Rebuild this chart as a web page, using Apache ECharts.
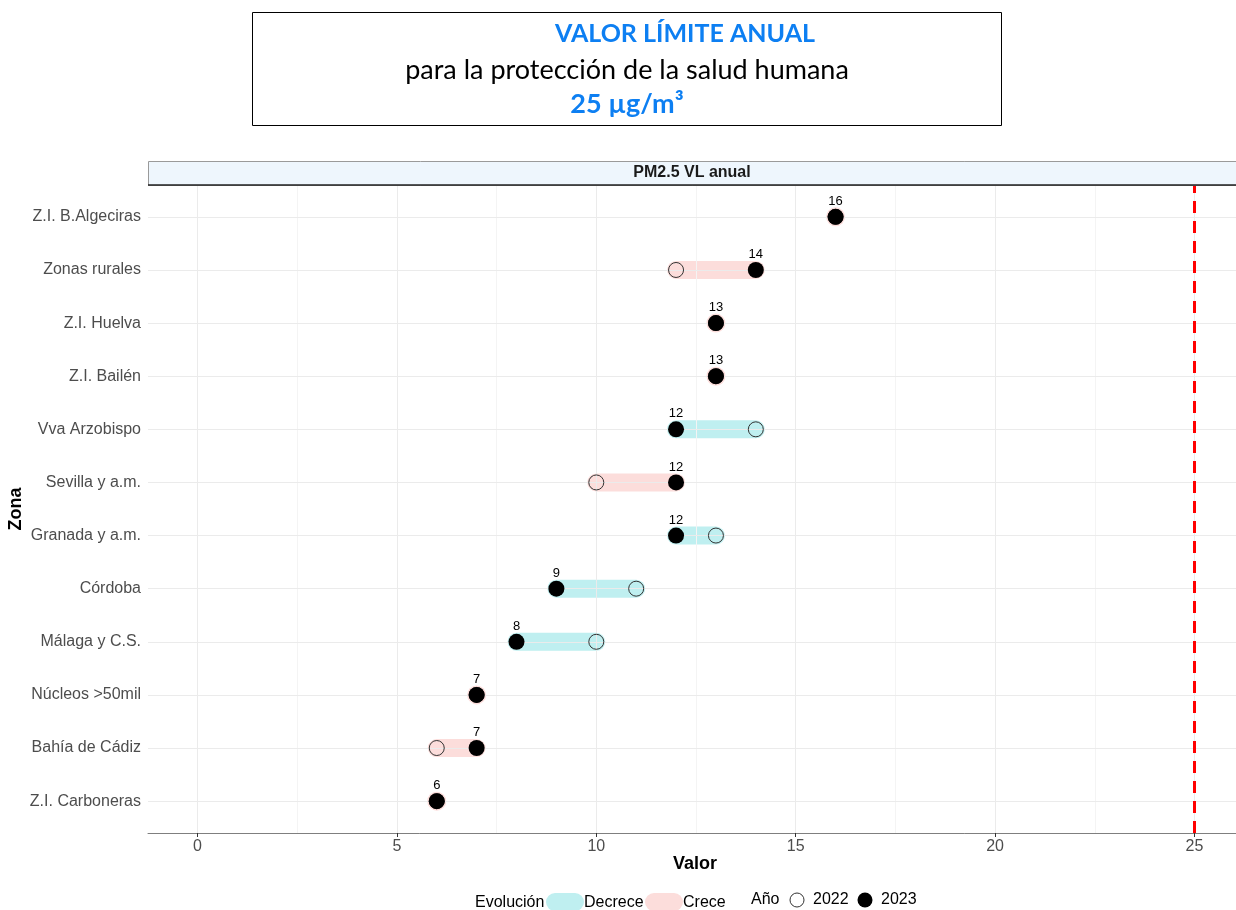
<!DOCTYPE html>
<html>
<head>
<meta charset="utf-8">
<script src="https://cdn.jsdelivr.net/npm/echarts@6/dist/echarts.min.js"></script>
<style>
html,body{margin:0;padding:0;background:#fff;}
#chart{width:1236px;height:910px;}
</style>
</head>
<body>
<div id="chart"></div>
<script>
// ---- Data ----
const zones = ['Z.I. B.Algeciras','Zonas rurales','Z.I. Huelva','Z.I. Bailén','Vva Arzobispo','Sevilla y a.m.','Granada y a.m.','Córdoba','Málaga y C.S.','Núcleos >50mil','Bahía de Cádiz','Z.I. Carboneras'];
const v2022 = [16,12,13,13,14,10,13,11,10,7,6,6];
const v2023 = [16,14,13,13,12,12,12,9,8,7,7,6];
const xTicks = [0,5,10,15,20,25];
const xMinor = [2.5,7.5,12.5,17.5,22.5];
const limitValue = 25;

const n = zones.length;
const yPos = zones.map((z,i)=> n - i);
const yTicks = yPos.slice();
const nameAt = {}; zones.forEach((z,i)=>{ nameAt[n-i]=z; });

const CYAN = '#bfeff0', PINK = '#fcdddb';
const FONT = '"Liberation Sans", Arial, sans-serif';

const segData = zones.map((z,i)=>[v2022[i], v2023[i], yPos[i]]);
const p22 = zones.map((z,i)=>[v2022[i], yPos[i]]);
const p23 = zones.map((z,i)=>[v2023[i], yPos[i]]);

const chart = echarts.init(document.getElementById('chart'), null, {renderer:'canvas'});

const gridLines = [];
xTicks.forEach(v=>gridLines.push({xAxis:v, lineStyle:{color:'#ebebeb', width:1, type:'solid'}}));
xMinor.forEach(v=>gridLines.push({xAxis:v, lineStyle:{color:'#f4f4f4', width:1, type:'solid'}}));
yTicks.forEach(v=>gridLines.push({yAxis:v, lineStyle:{color:'#ebebeb', width:1, type:'solid'}}));

const option = {
  backgroundColor:'#fff',
  animation:false,
  grid:{left:148, right:0, top:185, bottom:77, containLabel:false, outerBoundsMode:'none'},
  xAxis:{
    type:'value', min:-1.24, max:26.04,
    axisLine:{show:true, lineStyle:{color:'#7f7f7f', width:1}},
    axisTick:{show:true, length:4, lineStyle:{color:'#333'}, customValues:xTicks},
    axisLabel:{fontFamily:FONT, fontSize:16, color:'#4d4d4d', margin:6, customValues:xTicks},
    splitLine:{show:false}
  },
  yAxis:{
    type:'value', min:0.4, max:n+0.6,
    axisLine:{show:true, lineStyle:{color:'#7f7f7f', width:1}},
    axisTick:{show:true, length:4, lineStyle:{color:'#333'}, customValues:yTicks},
    axisLabel:{fontFamily:FONT, fontSize:16, color:'#4d4d4d', margin:7, customValues:yTicks,
      formatter:(v)=> nameAt[Math.round(v)] || ''},
    splitLine:{show:false}
  },
  series:[
    {
      type:'line', data:[], silent:true,
      markLine:{silent:true, symbol:['none','none'], label:{show:false}, data:gridLines, animation:false}
    },
    {
      type:'custom', z:3, clip:false,
      data:segData,
      encode:{x:[0,1], y:2},
      renderItem:(params, api)=>{
        const a = api.coord([api.value(0), api.value(2)]);
        const b = api.coord([api.value(1), api.value(2)]);
        const col = api.value(1) < api.value(0) ? CYAN : PINK;
        if (api.value(1) === api.value(0)) {
          return {type:'circle', shape:{cx:b[0], cy:b[1], r:9.5}, style:{fill:col}};
        }
        return {type:'line', shape:{x1:a[0], y1:a[1], x2:b[0], y2:b[1]},
          style:{stroke:col, lineWidth:18, lineCap:'round'}};
      }
    },
    {
      type:'line', data:[], silent:true, z:4,
      markLine:{silent:true, symbol:['none','none'], label:{show:false},
        data:[{xAxis:limitValue, lineStyle:{color:'#ff0000', width:3, type:[12,8]}}]}
    },
    {
      name:'2022', type:'scatter', z:5, data:p22, symbol:'circle', symbolSize:15,
      itemStyle:{color:'rgba(0,0,0,0)', borderColor:'#333', borderWidth:1, opacity:1}
    },
    {
      name:'2023', type:'scatter', z:6, data:p23, symbol:'circle', symbolSize:16,
      itemStyle:{color:'#000', opacity:1},
      label:{show:true, position:'top', distance:1, fontFamily:FONT, fontSize:13, color:'#000',
        formatter:(p)=> String(p.value[0])}
    }
  ],
  graphic:[
    // title box
    {type:'rect', left:252, top:12, shape:{width:749, height:113}, style:{fill:'#fff', stroke:'#000', lineWidth:1}, z:10},
    {type:'text', x:685, y:34, style:{text:'VALOR LÍMITE ANUAL', font:'bold 25px Lato, sans-serif', fill:'#0d7ff2', align:'center', verticalAlign:'middle'}, z:11},
    {type:'text', x:627, y:70, style:{text:'para la protección de la salud humana', font:'27px Lato, sans-serif', fill:'#000', align:'center', verticalAlign:'middle'}, z:11},
    {type:'text', x:627, y:104, style:{text:'25 µg/m³', font:'bold 27px Lato, sans-serif', fill:'#0d7ff2', align:'center', verticalAlign:'middle'}, z:11},
    // strip
    {type:'rect', left:148, top:161, shape:{width:1090, height:24}, style:{fill:'#eef6fd', stroke:'#9a9a9a', lineWidth:1}, z:10},
    {type:'line', shape:{x1:148, y1:185, x2:1236, y2:185}, style:{stroke:'#222', lineWidth:1.5}, z:11},
    {type:'text', x:692, y:173, style:{text:'PM2.5 VL anual', font:'bold 16px "Liberation Sans", Arial, sans-serif', fill:'#1a1a1a', align:'center', verticalAlign:'middle'}, z:11},
    // axis titles
    {type:'text', x:695, y:864, style:{text:'Valor', font:'bold 18px "Liberation Sans", Arial, sans-serif', fill:'#000', align:'center', verticalAlign:'middle'}, z:11},
    {type:'text', x:16, y:509, rotation:Math.PI/2, style:{text:'Zona', font:'bold 18px "Liberation Sans", Arial, sans-serif', fill:'#000', align:'center', verticalAlign:'middle'}, z:11},
    // legend
    {type:'text', x:475, y:903, style:{text:'Evolución', font:'16px "Liberation Sans", Arial, sans-serif', fill:'#000', verticalAlign:'middle'}, z:11},
    {type:'rect', left:546, top:893, shape:{width:38, height:18, r:9}, style:{fill:CYAN}, z:10},
    {type:'text', x:584, y:903, style:{text:'Decrece', font:'16px "Liberation Sans", Arial, sans-serif', fill:'#000', verticalAlign:'middle'}, z:11},
    {type:'rect', left:645, top:893, shape:{width:38, height:18, r:9}, style:{fill:PINK}, z:10},
    {type:'text', x:683, y:903, style:{text:'Crece', font:'16px "Liberation Sans", Arial, sans-serif', fill:'#000', verticalAlign:'middle'}, z:11},
    {type:'text', x:751, y:900, style:{text:'Año', font:'16px "Liberation Sans", Arial, sans-serif', fill:'#000', verticalAlign:'middle'}, z:11},
    {type:'circle', shape:{cx:797, cy:900, r:7}, style:{fill:'#fff', stroke:'#333', lineWidth:1}, z:11},
    {type:'text', x:813, y:900, style:{text:'2022', font:'16px "Liberation Sans", Arial, sans-serif', fill:'#000', verticalAlign:'middle'}, z:11},
    {type:'circle', shape:{cx:865, cy:900, r:7.5}, style:{fill:'#000'}, z:11},
    {type:'text', x:881, y:900, style:{text:'2023', font:'16px "Liberation Sans", Arial, sans-serif', fill:'#000', verticalAlign:'middle'}, z:11}
  ]
};
chart.setOption(option);
</script>
</body>
</html>
